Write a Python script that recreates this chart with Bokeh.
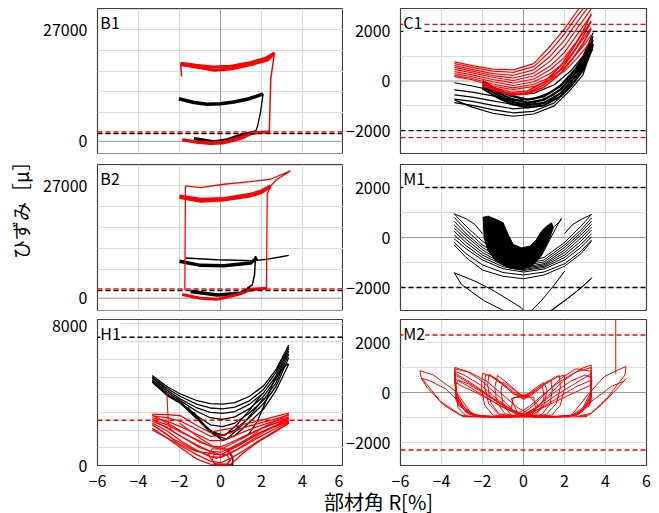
import math
from bokeh.plotting import figure
from bokeh.layouts import row, column
from bokeh.models import FixedTicker, Span, Label
from bokeh.embed import file_html
from bokeh.resources import INLINE

FONT = "Noto Sans CJK JP"
RED = "#ff0000"
BLACK = "#000000"
GRID = "#dcdcdc"
ZERO = "#9a9a9a"
FRAME = "#404040"

# ---------------- axes / ticks ----------------
X_TICKS = [-6, -4, -2, 0, 2, 4, 6]
X_LABELS = {-6: "−6", -4: "−4", -2: "−2", 0: "0", 2: "2", 4: "4", 6: "6"}
X_GRID = [-4, -2, 2, 4]

B_RANGE = (-2950, 32150)
B_TICKS = [0, 27000]
B_LABELS = {0: "0", 27000: "27000"}
B_GRID = [-3000, 2000, 7000, 12000, 17000, 22000, 27000, 32000]

R_RANGE = (-2920, 2920)
R_TICKS = [-2000, 0, 2000]
R_LABELS = {-2000: "−2000", 0: "0", 2000: "2000"}
R_GRID = [-3000, -2000, -1000, 1000, 2000, 3000]

H_RANGE = (0, 8250)
H_TICKS = [0, 8000]
H_LABELS = {0: "0", 8000: "8000"}
H_GRID = [1000, 2000, 3000, 4000, 5000, 6000, 7000, 8000]

# limit (yield) lines
B_LIMIT_BLACK = 1850
B_LIMIT_RED = 2260
C1_LIMIT_BLACK = [2000, -2000]
C1_LIMIT_RED = [2280, -2280]
M1_LIMIT_BLACK = [2000, -2000]
M2_LIMIT_RED = [2300, -2300]
H1_LIMIT_BLACK = 7250
H1_LIMIT_RED = 2560

# ---------------- B1 ----------------
B1_red_thick_x = [[-1.95, -1.2, -0.4, 0.5, 1.5, 2.2, 2.63],
                  [-1.95, -1.0, -0.3, 0.5, 1.5, 2.3, 2.63],
                  [-1.87, -1.2, -0.49, 0.1, 0.65, 1.1, 1.46, 2.0, 2.36],
                  [-1.8, -1.2, -0.5, 0.1, 0.65, 1.1, 1.5]]
B1_red_thick_y = [[18900, 18400, 18000, 18200, 19100, 20100, 21400],
                  [18600, 17800, 17200, 17500, 18600, 19700, 21400],
                  [400, -200, -560, -400, 240, 900, 1850, 2200, 2250],
                  [300, -100, -350, -200, 450, 1100, 1900]]
B1_red_thin_x = [[-1.9, -1.95], [2.63, 2.45, 2.38, 1.6]]
B1_red_thin_y = [[15700, 18900], [21400, 15000, 2250, 2250]]
B1_black_thick_x = [[-2.03, -1.3, -0.65, 0.0, 0.65, 1.4, 2.08],
                    [-1.3, -0.8, -0.33, 0.3, 0.98, 1.7]]
B1_black_thick_y = [[10300, 9400, 8950, 9100, 9500, 10300, 11500],
                    [650, 250, -160, 300, 1450, 2250]]
B1_black_thin_x = [[2.08, 1.95, 1.8, 1.7]]
B1_black_thin_y = [[11500, 7000, 3500, 2250]]

# ---------------- B2 ----------------
B2_red_thin_x = [[-1.74, -1.71, -0.98, 0.16, 1.46, 2.44, 3.41, 2.76, 2.44, 2.28, 2.24, 1.46]]
B2_red_thin_y = [[2000, 27000, 26600, 27400, 28050, 28600, 30600, 28600, 27000, 25000, 2400, 2400]]
B2_red_thick_x = [[-2.0, -0.97, 0.16, 1.46, 2.0, 2.44],
                  [-2.0, -0.97, 0.16, 1.46, 2.0, 2.44],
                  [-1.87, -0.98, -0.16, 0.81, 1.46, 2.24]]
B2_red_thick_y = [[24600, 23800, 24000, 25000, 25800, 27000],
                  [24200, 23300, 23600, 24600, 25400, 26800],
                  [900, 0, -240, 800, 2000, 2400]]
B2_black_thick_x = [[-2.0, -0.97, 0.16, 1.46, 1.79],
                    [-1.46, -0.16, 0.98, 1.46]]
B2_black_thick_y = [[8870, 7900, 7820, 8460, 9670],
                    [1610, 800, 1210, 2420]]
B2_black_thin_x = [[1.6, 2.3, 2.9, 3.33],
                   [-1.71, -0.16, 1.63, 1.71],
                   [1.71, 1.66, 1.55, 1.3]]
B2_black_thin_y = [[9000, 9400, 9900, 10300],
                   [9670, 9270, 9030, 10080],
                   [10080, 5640, 3220, 2420]]

# ---------------- C1 ----------------
C1_red_x = [-3.37, -2.5, -1.5, -0.5, 0.5, 1.3, 2.0, 2.6, 3.0, 3.3]
C1_red_y = [[770, 620, 480, 450, 700, 1400, 2100, 2800, 3200, 3500],
            [700, 550, 400, 350, 580, 1200, 1900, 2600, 3000, 3300],
            [620, 470, 300, 230, 450, 1000, 1650, 2350, 2800, 3100],
            [550, 400, 220, 120, 320, 800, 1400, 2100, 2550, 2900],
            [470, 330, 150, 20, 200, 600, 1150, 1850, 2300, 2650],
            [380, 250, 60, -80, 80, 450, 950, 1600, 2050, 2400],
            [300, 170, -30, -180, -30, 300, 750, 1350, 1800, 2150],
            [230, 100, -120, -280, -130, 150, 550, 1100, 1500, 1850],
            [173, 50, -200, -350, -220, 50, 400, 900, 1300, 1650]]
C1_red_inner_x = [-2.0, -1.3, -0.6, 0.2, 1.0, 1.8, 2.4, 2.9, 3.3]
C1_red_inner_y = [[-100, -300, -450, -400, -50, 600, 1300, 2000, 2700],
                  [-200, -400, -520, -480, -150, 450, 1100, 1800, 2400],
                  [-150, -380, -560, -520, -250, 300, 900, 1500, 2100]]
C1_black_x = [-3.37, -2.5, -1.5, -0.5, 0.5, 1.5, 2.3, 2.9, 3.4]
C1_black_y = [[-70, -200, -380, -550, -500, -150, 400, 1000, 1950],
              [-360, -450, -600, -780, -720, -380, 200, 850, 1800],
              [-560, -650, -800, -950, -880, -550, 50, 700, 1650],
              [-730, -820, -980, -1120, -1050, -700, -100, 550, 1500],
              [-870, -980, -1150, -1280, -1220, -880, -250, 400, 1400],
              [-760, -1050, -1300, -1420, -1330, -1000, -350, 250, 1500]]
C1_black_inner_x = [-2.0, -1.3, -0.6, 0.2, 1.0, 1.8, 2.5, 3.0, 3.35]
C1_black_inner_y = [[0, -350, -600, -750, -620, -200, 450, 1050, 1700],
                    [-100, -450, -720, -870, -760, -350, 300, 900, 1600],
                    [-200, -550, -830, -970, -880, -500, 150, 750, 1450],
                    [-300, -650, -920, -1060, -980, -620, 0, 600, 1300]]

# ---------------- M1 ----------------
M1_u_x = [-3.38, -2.8, -2.0, -1.0, 0.0, 1.0, 2.0, 2.8, 3.32]
M1_u_y = [[950, 450, -150, -700, -950, -800, -200, 450, 920],
          [800, 300, -300, -800, -1050, -900, -300, 300, 780],
          [650, 150, -400, -900, -1120, -980, -400, 200, 650],
          [500, 50, -500, -980, -1180, -1050, -500, 100, 520],
          [380, -80, -600, -1050, -1230, -1100, -600, -20, 420],
          [250, -200, -700, -1100, -1280, -1150, -700, -150, 300],
          [100, -330, -800, -1170, -1320, -1200, -800, -280, 150],
          [-50, -450, -900, -1250, -1380, -1260, -900, -400, 30],
          [-200, -650, -1100, -1400, -1500, -1380, -1050, -550, -100],
          [-300, -800, -1300, -1550, -1650, -1500, -1150, -650, -150]]
M1_other_x = [[-3.38, -2.8, -2.37, -2.0], [3.32, 2.8, 2.37, 2.0],
              [-3.38, -3.02, -2.4, -1.89, -1.07, -0.8],
              [-3.38, -2.37, -1.56, -0.75, -0.1, 0.1],
              [3.35, 2.9, 2.3, 1.7, 1.3],
              [3.3, 2.6, 1.9, 1.4, 1.1],
              [2.0, 1.5, 0.9, 0.3],
              [-1.97, -1.6, -1.0, -0.4, 0.3, 0.9, 1.4, 1.85],
              [-1.97, -1.5, -0.9, -0.3, 0.3, 0.8, 1.3, 1.85]]
M1_other_y = [[950, 750, 520, 150], [920, 720, 500, 150],
              [-1410, -1880, -2250, -2546, -2880, -3000],
              [-1410, -1746, -2080, -2480, -2813, -3000],
              [-1600, -1950, -2350, -2700, -2950],
              [-1650, -2150, -2600, -2900, -3000],
              [-1350, -1900, -2500, -3000],
              [813, 300, -500, -1000, -1100, -700, 100, 780],
              [780, 500, -100, -600, -700, -300, 300, 700]]
M1_core_x = [-1.97, -1.72, -1.32, -0.99, -0.75, -0.5, -0.1, 0.31, 0.63, 0.88, 1.12, 1.37,
             1.45, 1.28, 1.04, 0.8, 0.39, -0.1, -0.75, -1.32, -1.72, -1.92]
M1_core_y = [813, 853, 720, 587, 120, -280, -413, -347, -80, 253, 453, 587,
             387, -13, -413, -813, -1147, -1280, -1213, -947, -547, -13]

# ---------------- M2 ----------------
M2_x = [[-2.2, -2.6, -3.3, -4.4, -5.05, -5.0, -4.05, -3.0, -2.5],
        [-2.4, -3.0, -3.8, -4.6, -5.0, -4.7, -3.9, -3.1, -2.6],
        [2.3, 3.13, 3.95, 4.6, 5.0, 4.95, 4.1, 3.3, 2.6],
        [2.5, 3.4, 4.3, 4.9, 5.0, 4.5, 3.8, 3.2, 2.7],
        [4.5, 4.5],
        [0.3, -0.45, -1.1, -2.0, -2.74, -3.35, -3.3, -2.74, -2.1, -1.0, 0.3],
        [0.2, -0.6, -1.3, -2.1, -2.9, -3.35, -3.3, -2.8, -2.0, 0.2],
        [0.1, -0.8, -1.6, -2.4, -3.0, -3.35, -3.3, -2.7, -1.8, 0.1],
        [0.0, -1.0, -1.9, -2.8, -3.35, -3.25, -2.6, -1.5, 0.0],
        [-0.2, -1.2, -2.2, -3.0, -3.3, -3.2, -2.5, -1.3, -0.2],
        [0.4, -0.3, -1.0, -1.8, -2.6, -3.35, -3.3, -2.9, -2.3, -0.5],
        [0.0, -0.9, -1.7, -2.5, -3.1, -3.35, -3.28, -2.9, -2.2, -0.8],
        [-0.1, -1.1, -2.0, -2.7, -3.2, -3.3, -3.2, -2.8, -1.9],
        [0.3, -0.4, -1.0, -1.6, -2.0, -2.05, -1.9, -1.5, -0.8, 0.3],
        [0.2, -0.5, -1.1, -1.68, -1.75, -1.6, -1.2, -0.5, 0.2],
        [0.1, -0.4, -0.9, -1.27, -1.4, -1.3, -0.9, -0.3, 0.1],
        [0.25, -0.45, -1.05, -1.5, -1.85, -1.9, -1.7, -1.2, -0.4],
        [0.0, -0.3, -0.7, -1.0, -1.1, -1.0, -0.6, -0.1],
        [-0.3, 0.45, 1.1, 2.0, 2.8, 3.3, 3.3, 2.8, 2.1, 1.0, -0.3],
        [-0.2, 0.5, 1.17, 1.83, 2.56, 3.3, 3.3, 2.7, 1.9, -0.2],
        [-0.1, 0.7, 1.5, 2.3, 3.0, 3.33, 3.3, 2.6, 1.7, -0.1],
        [0.0, 0.9, 1.8, 2.6, 3.33, 3.25, 2.5, 1.5, 0.0],
        [0.1, 1.1, 2.1, 2.9, 3.3, 3.2, 2.4, 1.3, 0.1],
        [-0.4, 0.3, 1.0, 1.8, 2.5, 3.3, 3.3, 2.9, 2.3, 0.5],
        [0.0, 0.9, 1.7, 2.4, 3.0, 3.3, 3.25, 2.9, 2.2, 0.8],
        [-0.3, 0.4, 1.0, 1.6, 2.0, 2.0, 1.8, 1.4, 0.7, -0.3],
        [-0.2, 0.4, 0.9, 1.34, 1.4, 1.3, 0.9, 0.3, -0.2],
        [-0.1, 0.4, 0.93, 1.0, 0.8, 0.3, -0.1],
        [-0.25, 0.4, 1.0, 1.5, 1.75, 1.8, 1.6, 1.1, 0.4],
        [0.0, 0.3, 0.7, 1.0, 1.15, 1.0, 0.6, 0.1],
        [-0.5, 0.0, 0.5, 0.6, 0.0, -0.6, -0.5],
        [-0.6, -0.2, 0.3, 0.7, 0.4, -0.3, -0.6],
        [-3.0, -1.5, 0.0, 1.5, 3.1]]
M2_y = [[-960, -780, 40, 700, 870, 620, -360, -930, -970],
        [-960, -500, 150, 480, 580, 200, -500, -900, -970],
        [-960, -90, 640, 900, 1040, 700, -200, -830, -960],
        [-960, -300, 250, 450, 550, 100, -500, -900, -960],
        [3000, 760],
        [-960, -760, -230, 440, 840, 1000, -90, -760, -960, -970, -960],
        [-950, -700, -250, 300, 700, 850, -200, -800, -960, -950],
        [-960, -650, -200, 250, 550, 700, -300, -850, -970, -960],
        [-940, -600, -150, 300, 550, -400, -880, -960, -940],
        [-930, -500, -50, 250, 400, -500, -900, -960, -930],
        [-900, -600, -100, 450, 800, 950, 0, -600, -950, -990],
        [-900, -550, -100, 350, 650, 780, -150, -700, -960, -990],
        [-880, -450, 0, 350, 500, 300, -600, -930, -980],
        [-160, -100, 300, 650, 770, 200, -500, -900, -960, -960],
        [-200, -50, 400, 730, 300, -400, -850, -960, -960],
        [-250, 100, 450, 680, 200, -400, -850, -960, -960],
        [-180, 0, 380, 640, 720, 250, -450, -880, -970],
        [-300, 0, 250, 420, 100, -500, -900, -970],
        [-960, -760, -200, 500, 950, 1100, -100, -800, -960, -970, -960],
        [-950, -500, 40, 570, 950, 850, -250, -870, -960, -950],
        [-940, -550, 0, 450, 700, 600, -350, -900, -960, -940],
        [-930, -600, -150, 250, 500, -450, -900, -960, -930],
        [-920, -550, -150, 150, 300, -550, -920, -960, -920],
        [-900, -550, -50, 450, 800, 1000, 50, -600, -950, -990],
        [-900, -500, -50, 300, 600, 750, -200, -750, -960, -990],
        [-160, -100, 300, 600, 700, 150, -500, -900, -960, -960],
        [-200, 0, 300, 500, 100, -450, -880, -960, -960],
        [-250, -50, 240, -200, -700, -960, -960],
        [-180, 0, 350, 600, 680, 200, -450, -880, -970],
        [-300, 0, 250, 400, 80, -500, -900, -970],
        [-200, -160, -200, -700, -960, -700, -200],
        [-250, -170, -180, -500, -900, -800, -250],
        [-960, -990, -980, -990, -960]]

# ---------------- H1 ----------------
H1_black_x = [-3.33, -2.6, -1.95, -1.14, -0.5, 0.1, 0.7, 1.4, 2.1, 2.7, 3.33]
H1_black_y = [[5080, 4450, 4040, 3660, 3500, 3470, 3550, 3900, 4500, 5400, 6800],
              [5000, 4350, 3900, 3450, 3250, 3200, 3300, 3650, 4300, 5250, 6700],
              [4950, 4250, 3750, 3250, 3000, 2950, 3050, 3450, 4100, 5050, 6600],
              [4850, 4150, 3650, 3050, 2700, 2600, 2750, 3200, 3900, 4850, 6450],
              [4780, 4050, 3560, 2800, 2300, 2200, 2400, 2950, 3700, 4650, 6300],
              [4700, 3950, 3500, 2623, 1870, 1700, 2000, 2700, 3500, 4450, 6100],
              [4750, 4000, 3550, 2700, 2000, 1400, 1679, 2434, 3189, 4227, 5736]]
H1_black_extra_x = [[3.3, 3.0, 2.6, 2.2, 1.8, 1.4, 1.0],
                    [-1.6, -1.0, -0.4, 0.2, 0.8, 1.4, 2.0],
                    [-1.3, -0.8, -0.3, 0.3, 0.9, 1.5, 2.1],
                    [-0.3, 0.3, 0.6, 0.6, 0.3]]
H1_black_extra_y = [[5750, 5450, 4800, 3600, 2500, 1800, 1500],
                    [3300, 2500, 1900, 1700, 2300, 3100, 4000],
                    [3000, 2300, 1700, 1500, 2100, 2900, 3800],
                    [80, 40, 60, 450, 900]]
H1_red_x = [-3.33, -2.6, -1.95, -1.14, -0.5, 0.0, 0.5, 1.14, 1.8, 2.6, 3.33]
H1_red_y = [[2906, 2870, 2812, 2245, 1868, 2000, 2100, 2340, 2500, 2750, 2963],
            [2800, 2700, 2500, 2050, 1650, 1700, 1850, 2150, 2350, 2600, 2850],
            [2700, 2500, 2200, 1750, 1400, 1400, 1600, 1900, 2200, 2500, 2750],
            [2600, 2300, 1900, 1450, 1100, 1050, 1300, 1650, 2000, 2350, 2650],
            [2500, 2150, 1650, 1150, 800, 750, 1000, 1400, 1800, 2200, 2550],
            [2400, 1950, 1400, 850, 500, 450, 700, 1100, 1550, 2050, 2450],
            [2300, 1750, 1113, 600, 250, 150, 400, 850, 1350, 1900, 2400],
            [2100, 1550, 1000, 358, 75, 50, 75, 736, 1302, 1850, 2396]]
H1_red_extra_x = [[-3.33, -2.0, -1.0, 0.0, 1.0, 2.0, 3.33],
                  [-3.33, -2.0, -1.0, 0.0, 1.0, 2.0, 3.33],
                  [-3.33, -2.2, -1.2, 0.0, 1.0, 2.0, 3.33],
                  [-3.33, -2.3, -1.3, -0.2, 0.8, 2.0, 3.33],
                  [-2.0, -1.2, -0.4, 0.4, 1.2, 2.2, 3.33],
                  [-0.6, -0.3, 0.3, 0.6, 0.4, -0.4, -0.6],
                  [-0.4, -0.2, 0.3, 0.5, 0.3, -0.3, -0.4],
                  [-2.62, -2.55, -2.4]]
H1_red_extra_y = [[2850, 2000, 1300, 900, 1500, 2100, 2700],
                  [2600, 1700, 1000, 600, 1200, 1900, 2500],
                  [2000, 1300, 800, 600, 1200, 2100, 2900],
                  [2300, 1500, 900, 400, 900, 1800, 2700],
                  [2400, 1700, 1100, 900, 1400, 2000, 2600],
                  [600, 100, 80, 500, 900, 950, 600],
                  [300, 20, 20, 300, 600, 650, 300],
                  [4150, 2500, 2000]]


def make_panel(y_range, y_ticks, y_labels, y_grid, zero_h, left_col, fh, mt, mb, show_x):
    p = figure(frame_width=246, frame_height=fh, x_range=(-6, 6), y_range=y_range,
               toolbar_location=None, output_backend="svg",
               min_border_left=59 if left_col else 56,
               min_border_right=0 if left_col else 6,
               min_border_top=mt, min_border_bottom=mb)
    p.outline_line_color = FRAME
    p.outline_line_width = 1.2
    p.background_fill_color = "white"
    p.border_fill_color = "white"
    p.xgrid.ticker = FixedTicker(ticks=X_GRID)
    p.ygrid.ticker = FixedTicker(ticks=y_grid)
    for g in (p.xgrid, p.ygrid):
        g.grid_line_color = GRID
        g.grid_line_width = 1
    p.yaxis.ticker = FixedTicker(ticks=y_ticks)
    p.yaxis.major_label_overrides = y_labels
    p.xaxis.ticker = FixedTicker(ticks=X_TICKS)
    p.xaxis.major_label_overrides = X_LABELS
    for ax in (p.xaxis, p.yaxis):
        ax.axis_line_color = None
        ax.major_tick_line_color = None
        ax.minor_tick_line_color = None
        ax.major_label_text_font = FONT
        ax.major_label_text_font_size = "16px"
        ax.major_label_text_color = "black"
    p.yaxis.major_label_standoff = 4
    p.xaxis.major_label_standoff = 3
    p.xaxis.visible = show_x
    p.add_layout(Span(location=0, dimension="height", line_color=ZERO,
                      line_width=1, level="underlay"))
    if zero_h:
        p.add_layout(Span(location=0, dimension="width", line_color=ZERO,
                          line_width=1, level="underlay"))
    return p


def add_name(p, name, y_top):
    p.add_layout(Label(x=-5.86, y=y_top, y_offset=-1, text=name, text_baseline="top",
                       text_font=FONT, text_font_size="16px", text_color="black",
                       background_fill_color="white"))


def hline(p, y, color):
    p.add_layout(Span(location=y, dimension="width", line_color=color,
                      line_width=1.4, line_dash="5 3"))


# ---- B1
pB1 = make_panel(B_RANGE, B_TICKS, B_LABELS, B_GRID, True, True, 145, 8, 11, False)
pB1.multi_line(B1_black_thick_x, B1_black_thick_y, line_color=BLACK, line_width=3.5)
pB1.multi_line(B1_black_thin_x, B1_black_thin_y, line_color=BLACK, line_width=1.3)
pB1.multi_line(B1_red_thick_x, B1_red_thick_y, line_color=RED, line_width=3)
pB1.multi_line(B1_red_thin_x, B1_red_thin_y, line_color=RED, line_width=1.5)
hline(pB1, B_LIMIT_BLACK, BLACK)
hline(pB1, B_LIMIT_RED, RED)
add_name(pB1, "B1", B_RANGE[1])

# ---- C1
pC1 = make_panel(R_RANGE, R_TICKS, R_LABELS, R_GRID, True, False, 145, 8, 11, False)
pC1.multi_line([C1_black_x] * len(C1_black_y), C1_black_y, line_color=BLACK, line_width=1.2)
pC1.multi_line([C1_black_inner_x] * len(C1_black_inner_y), C1_black_inner_y,
               line_color=BLACK, line_width=2.2)
pC1.multi_line([C1_red_x] * len(C1_red_y), C1_red_y, line_color=RED, line_width=1.2)
pC1.multi_line([C1_red_inner_x] * len(C1_red_inner_y), C1_red_inner_y,
               line_color=RED, line_width=1.6)
for v in C1_LIMIT_BLACK:
    hline(pC1, v, BLACK)
for v in C1_LIMIT_RED:
    hline(pC1, v, RED)
add_name(pC1, "C1", R_RANGE[1])

# ---- B2
pB2 = make_panel(B_RANGE, B_TICKS, B_LABELS, B_GRID, True, True, 146, 0, 9, False)
pB2.multi_line(B2_black_thick_x, B2_black_thick_y, line_color=BLACK, line_width=3.5)
pB2.multi_line(B2_black_thin_x, B2_black_thin_y, line_color=BLACK, line_width=1.5)
pB2.multi_line(B2_red_thick_x, B2_red_thick_y, line_color=RED, line_width=3)
pB2.multi_line(B2_red_thin_x, B2_red_thin_y, line_color=RED, line_width=1.3)
hline(pB2, B_LIMIT_BLACK, BLACK)
hline(pB2, B_LIMIT_RED, RED)
add_name(pB2, "B2", B_RANGE[1])

# ---- M1
pM1 = make_panel(R_RANGE, R_TICKS, R_LABELS, R_GRID, True, False, 146, 0, 9, False)
pM1.patch(M1_core_x, M1_core_y, fill_color=BLACK, line_color=BLACK, line_width=1)
pM1.multi_line([M1_u_x] * len(M1_u_y), M1_u_y, line_color=BLACK, line_width=1)
pM1.multi_line(M1_other_x, M1_other_y, line_color=BLACK, line_width=1)
for v in M1_LIMIT_BLACK:
    hline(pM1, v, BLACK)
add_name(pM1, "M1", R_RANGE[1])

# ---- H1
pH1 = make_panel(H_RANGE, H_TICKS, H_LABELS, H_GRID, False, True, 146, 0, 23, True)
pH1.multi_line([H1_black_x] * len(H1_black_y), H1_black_y, line_color=BLACK, line_width=1.3)
pH1.multi_line(H1_black_extra_x, H1_black_extra_y, line_color=BLACK, line_width=1.3)
pH1.multi_line([H1_red_x] * len(H1_red_y), H1_red_y, line_color=RED, line_width=1.3)
pH1.multi_line(H1_red_extra_x, H1_red_extra_y, line_color=RED, line_width=1.1)
hline(pH1, H1_LIMIT_BLACK, BLACK)
hline(pH1, H1_LIMIT_RED, RED)
add_name(pH1, "H1", H_RANGE[1])

# ---- M2
pM2 = make_panel(R_RANGE, R_TICKS, R_LABELS, R_GRID, True, False, 146, 0, 23, True)
pM2.multi_line(M2_x, M2_y, line_color=RED, line_width=1)
for v in M2_LIMIT_RED:
    hline(pM2, v, RED)
add_name(pM2, "M2", R_RANGE[1])

# ---- outer axis titles
yfig = figure(width=38, height=513, x_range=(0, 38), y_range=(0, 513),
              toolbar_location=None, output_backend="svg", min_border=0,
              x_axis_type=None, y_axis_type=None, outline_line_color=None)
yfig.add_layout(Label(x=20, y=308, text="ひずみ［μ］", angle=math.pi / 2,
                      text_align="center", text_baseline="middle",
                      text_font=FONT, text_font_size="19px", text_color="black"))

xfig = figure(width=613, height=25, x_range=(0, 613), y_range=(0, 25),
              toolbar_location=None, output_backend="svg", min_border=0,
              x_axis_type=None, y_axis_type=None, outline_line_color=None)
xfig.add_layout(Label(x=340, y=13, text="部材角 R[%]",
                      text_align="center", text_baseline="middle",
                      text_font=FONT, text_font_size="20px", text_color="black"))

grid = column(row(pB1, pC1), row(pB2, pM1), row(pH1, pM2), xfig)
layout = row(yfig, grid)

open("out.html", "w").write(file_html(layout, INLINE))
